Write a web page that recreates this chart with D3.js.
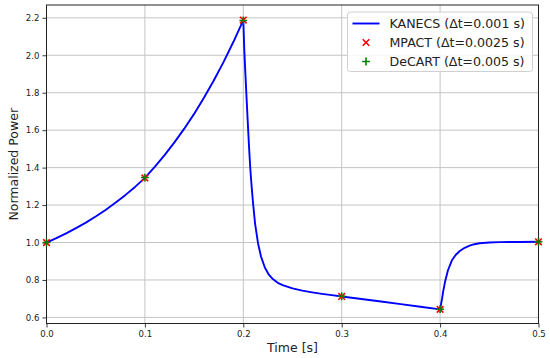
<!DOCTYPE html>
<html>
<head>
<meta charset="utf-8">
<script src="https://cdn.jsdelivr.net/npm/d3@7"></script>
<style>
  body { margin: 0; background: #fff; }
  svg { display: block; font-family: "DejaVu Sans", sans-serif; }
</style>
</head>
<body>
<svg id="chart"></svg>
<script>
// KANECS reference solution (dt = 0.001 s)
const kanecsTime = [
  0.000, 0.010, 0.020, 0.030, 0.040, 0.050, 0.060, 0.070, 0.080, 0.090,
  0.100, 0.110, 0.120, 0.130, 0.140, 0.150, 0.160, 0.170, 0.180, 0.190,
  0.200, 0.201, 0.202, 0.203, 0.204, 0.205, 0.206, 0.207, 0.208, 0.209,
  0.210, 0.212, 0.215, 0.218, 0.222, 0.226, 0.230, 0.235, 0.240, 0.250,
  0.260, 0.270, 0.280, 0.290, 0.300, 0.320, 0.340, 0.360, 0.380, 0.400,
  0.401, 0.402, 0.403, 0.405, 0.408, 0.412, 0.416, 0.420, 0.425, 0.430,
  0.435, 0.440, 0.450, 0.460, 0.480, 0.500
];
const kanecsPower = [
  1.000, 1.023, 1.049, 1.077, 1.106, 1.139, 1.174, 1.212, 1.253, 1.297,
  1.345, 1.404, 1.467, 1.535, 1.608, 1.687, 1.773, 1.865, 1.965, 2.072,
  2.188, 2.030, 1.915, 1.805, 1.700, 1.595, 1.495, 1.405, 1.330, 1.265,
  1.205, 1.100, 0.995, 0.925, 0.865, 0.828, 0.805, 0.785, 0.772, 0.755,
  0.743, 0.734, 0.726, 0.719, 0.712, 0.698, 0.685, 0.671, 0.657, 0.643,
  0.672, 0.700, 0.735, 0.790, 0.852, 0.905, 0.935, 0.955, 0.972, 0.983,
  0.991, 0.996, 1.000, 1.002, 1.003, 1.004
];

// Comparison codes, one point every 0.1 s
const mpactTime = [0.0, 0.1, 0.2, 0.3, 0.4, 0.5];
const mpactPower = [1.000, 1.345, 2.188, 0.712, 0.643, 1.004];
const decartTime = [0.0, 0.1, 0.2, 0.3, 0.4, 0.5];
const decartPower = [1.000, 1.347, 2.186, 0.713, 0.644, 1.004];

const xTicks = [0.0, 0.1, 0.2, 0.3, 0.4, 0.5];
const yTicks = [0.6, 0.8, 1.0, 1.2, 1.4, 1.6, 1.8, 2.0, 2.2];
const legendLabels = ["KANECS (\u0394t=0.001 s)", "MPACT (\u0394t=0.0025 s)", "DeCART (\u0394t=0.005 s)"];

const width = 550, height = 358;
const margin = {left: 46.5, right: 11.5, top: 5, bottom: 34.5};
const plotW = width - margin.left - margin.right;
const plotH = height - margin.top - margin.bottom;

const svg = d3.select("#chart")
    .attr("width", width)
    .attr("height", height);

const g = svg.append("g")
    .attr("transform", `translate(${margin.left},${margin.top})`);

const x = d3.scaleLinear().domain([0, 0.5]).range([0, plotW]);
const y = d3.scaleLinear().domain([0.5675, 2.2685]).range([plotH, 0]);

// grid
g.append("g")
    .selectAll("line.vx")
    .data(xTicks)
    .join("line")
    .attr("x1", d => x(d)).attr("x2", d => x(d))
    .attr("y1", 0).attr("y2", plotH)
    .attr("stroke", "#c4c4c4").attr("stroke-width", 1);
g.append("g")
    .selectAll("line.hy")
    .data(yTicks)
    .join("line")
    .attr("x1", 0).attr("x2", plotW)
    .attr("y1", d => y(d)).attr("y2", d => y(d))
    .attr("stroke", "#c4c4c4").attr("stroke-width", 1);

// axes
const xAxis = g.append("g")
    .attr("transform", `translate(0,${plotH})`)
    .call(d3.axisBottom(x).tickValues(xTicks).tickFormat(d3.format(".1f")).tickSizeOuter(0).tickSize(4).tickPadding(3));
const yAxis = g.append("g")
    .call(d3.axisLeft(y).tickValues(yTicks).tickFormat(d3.format(".1f")).tickSizeOuter(0).tickSize(4).tickPadding(3));
[xAxis, yAxis].forEach(a => {
  a.select(".domain").remove();
  a.selectAll("line").attr("stroke", "#222").attr("stroke-width", 0.9);
  a.selectAll("text")
      .attr("fill", "#222")
      .style("font-family", "DejaVu Sans, sans-serif")
      .style("font-size", "8.6px");
});

// frame
g.append("rect")
    .attr("width", plotW).attr("height", plotH)
    .attr("fill", "none")
    .attr("stroke", "#222").attr("stroke-width", 1);

// clip for line
svg.append("defs").append("clipPath").attr("id", "clip")
    .append("rect").attr("width", plotW).attr("height", plotH);

const line = d3.line()
    .x((d, i) => x(kanecsTime[i]))
    .y(d => y(d));

g.append("path")
    .datum(kanecsPower)
    .attr("clip-path", "url(#clip)")
    .attr("d", line)
    .attr("fill", "none")
    .attr("stroke", "#0000ff")
    .attr("stroke-width", 1.9)
    .attr("stroke-linejoin", "round");

const ms = 3.3;
function crossPath(s) {
  return `M${-s},${-s}L${s},${s}M${-s},${s}L${s},${-s}`;
}
function plusPath(s) {
  return `M${-s},0L${s},0M0,${-s}L0,${s}`;
}

g.append("g")
    .selectAll("path")
    .data(mpactPower)
    .join("path")
    .attr("transform", (d, i) => `translate(${x(mpactTime[i])},${y(d)})`)
    .attr("d", crossPath(ms))
    .attr("stroke", "#ff0000")
    .attr("stroke-width", 1.6);

g.append("g")
    .selectAll("path")
    .data(decartPower)
    .join("path")
    .attr("transform", (d, i) => `translate(${x(decartTime[i])},${y(d)})`)
    .attr("d", plusPath(ms + 0.6))
    .attr("stroke", "#008000")
    .attr("stroke-width", 1.6);

// axis labels
svg.append("text")
    .attr("x", margin.left + plotW / 2)
    .attr("y", 352)
    .attr("text-anchor", "middle")
    .attr("fill", "#222")
    .style("font-size", "12.5px")
    .text("Time [s]");

svg.append("text")
    .attr("transform", `translate(18,${margin.top + plotH / 2}) rotate(-90)`)
    .attr("text-anchor", "middle")
    .attr("fill", "#222")
    .style("font-size", "12.5px")
    .text("Normalized Power");

// legend
const lg = svg.append("g").attr("transform", "translate(347.5,12)");
lg.append("rect")
    .attr("width", 185).attr("height", 59.5)
    .attr("rx", 3)
    .attr("fill", "#fff").attr("fill-opacity", 0.85)
    .attr("stroke", "#d0d0d0").attr("stroke-width", 1);

const rowY = [11.5, 30.5, 49.5];
lg.append("line")
    .attr("x1", 5).attr("x2", 32)
    .attr("y1", rowY[0]).attr("y2", rowY[0])
    .attr("stroke", "#0000ff").attr("stroke-width", 1.9);
lg.append("path")
    .attr("transform", `translate(18.5,${rowY[1]})`)
    .attr("d", crossPath(ms))
    .attr("stroke", "#ff0000").attr("stroke-width", 1.6);
lg.append("path")
    .attr("transform", `translate(18.5,${rowY[2]})`)
    .attr("d", plusPath(ms + 0.6))
    .attr("stroke", "#008000").attr("stroke-width", 1.6);

lg.selectAll("text.lbl")
    .data(legendLabels)
    .join("text")
    .attr("x", 42)
    .attr("y", (d, i) => rowY[i])
    .attr("dy", "0.36em")
    .attr("fill", "#222")
    .style("font-size", "12.6px")
    .text(d => d);
</script>
</body>
</html>
